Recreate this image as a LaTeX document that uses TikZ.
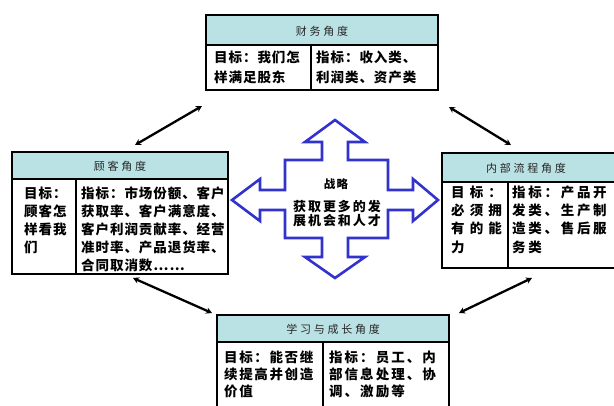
\documentclass[tikz,border=0pt]{standalone}
\usepackage{fontspec}
\setmainfont{Noto Sans CJK SC}
\usetikzlibrary{arrows.meta}
\definecolor{hdr}{RGB}{186,225,228}
\definecolor{crossblue}{RGB}{50,50,205}
\tikzset{
  outer/.style={draw=black, line width=2.2pt},
  inner/.style={draw=black, line width=1.3pt},
  hdrtext/.style={font=\fontsize{11}{13}\selectfont\addfontfeature{LetterSpace=25}, inner sep=0pt, text=black!85},
  body/.style={font=\bfseries\fontsize{13.5}{18}\selectfont\addfontfeature{LetterSpace=7}, align=left, anchor=north west, inner sep=0pt},
  link/.style={line width=2.3pt, {Stealth[length=6pt,width=6.5pt]}-{Stealth[length=6pt,width=6.5pt]}},
  crossshape/.style={draw=crossblue, line width=2.6pt, fill=white, line join=miter},
}
\begin{document}
\begin{tikzpicture}[x=1pt,y=-1pt]
\useasboundingbox (0,0) rectangle (614,405);
\clip (0,0) rectangle (614,405);

% ---------- top box: finance ----------
\fill[hdr] (206,15) rectangle (438,45);
\draw[inner] (206,45) -- (438,45) (311,45) -- (311,90);
\draw[outer] (206,15) rectangle (438,90);
\node[hdrtext] (finh) at (322,31) {财务角度};
\node[body, font=\bfseries\fontsize{13.5}{20}\selectfont\addfontfeature{LetterSpace=7}] (fing) at (214,51) {目标：我们怎\\样满足股东};
\node[body, font=\bfseries\fontsize{13.5}{20}\selectfont\addfontfeature{LetterSpace=7}] (fini) at (316,51) {指标：收入类、\\利润类、资产类};

% ---------- left box: customer ----------
\fill[hdr] (12,152) rectangle (228,179);
\draw[inner] (12,179) -- (228,179) (76,179) -- (76,274);
\draw[outer] (12,152) rectangle (228,274);
\node[hdrtext] (cush) at (120,166) {顾客角度};
\node[body] (cusg) at (24,186.5) {目标：\\顾客怎\\样看我\\们};
\node[body] (cusi) at (81,186.5) {指标：市场份额、客户\\获取率、客户满意度、\\客户利润贡献率、经营\\准时率、产品退货率、\\合同取消数……};

% ---------- right box: internal process ----------
\fill[hdr] (442,153) rectangle (625,182);
\draw[inner] (442,182) -- (625,182) (508,182) -- (508,268);
\draw[outer] (442,153) rectangle (625,268);
\node[hdrtext] (proh) at (526,168) {内部流程角度};
\node[body, font=\bfseries\fontsize{13.5}{18.3}\selectfont\addfontfeature{LetterSpace=38}] (prog) at (451,185.5) {目标：\\必须拥\\有的能\\力};
\node[body, font=\bfseries\fontsize{13.5}{18.3}\selectfont\addfontfeature{LetterSpace=20}] (proi) at (512,185.5) {指标：产品开\\发类、生产制\\造类、售后服\\务类};

% ---------- bottom box: learning and growth ----------
\fill[hdr] (217,315) rectangle (449,342);
\draw[inner] (217,342) -- (449,342) (323,342) -- (323,420);
\draw[outer] (217,315) rectangle (449,420);
\node[hdrtext] (lrnh) at (333,329) {学习与成长角度};
\node[body, font=\bfseries\fontsize{13.5}{17}\selectfont\addfontfeature{LetterSpace=12}] (lrng) at (224,350.5) {目标：能否继\\续提高并创造\\价值};
\node[body, font=\bfseries\fontsize{13.5}{17}\selectfont\addfontfeature{LetterSpace=15}] (lrni) at (329,350.5) {指标：员工、内\\部信息处理、协\\调、激励等};

% ---------- central four-way arrow ----------
\draw[crossshape] (335,120) -- (365,142) -- (348,142) -- (348,160) -- (388,160)
  -- (388,190) -- (413,190) -- (413,179) -- (438,200) -- (413,221) -- (413,210)
  -- (388,210) -- (388,238) -- (348,238) -- (348,257) -- (365,257) -- (335,278)
  -- (305,257) -- (322,257) -- (322,238) -- (285,238) -- (285,210) -- (260,210)
  -- (260,221) -- (232,200) -- (260,179) -- (260,190) -- (285,190) -- (285,160)
  -- (322,160) -- (322,142) -- (305,142) -- cycle;
\node[font=\bfseries\fontsize{11.5}{13}\selectfont\addfontfeature{LetterSpace=10}, inner sep=0pt] (strat) at (336,184) {战略};
\node[font=\bfseries\fontsize{13}{14}\selectfont\addfontfeature{LetterSpace=15}, align=center, inner sep=0pt] (goal) at (337,214) {获取更多的发\\展机会和人才};

% ---------- connectors ----------
\coordinate (c1a) at (135,145);
\coordinate (c1b) at (202,106);
\coordinate (c2a) at (449,107);
\coordinate (c2b) at (511,145);
\coordinate (c3a) at (133,278);
\coordinate (c3b) at (212,313);
\coordinate (c4a) at (532,278);
\coordinate (c4b) at (459,313);
\draw[link] (c1a) -- (c1b);
\draw[link] (c2a) -- (c2b);
\draw[link] (c3a) -- (c3b);
\draw[link] (c4a) -- (c4b);
\end{tikzpicture}
\end{document}
